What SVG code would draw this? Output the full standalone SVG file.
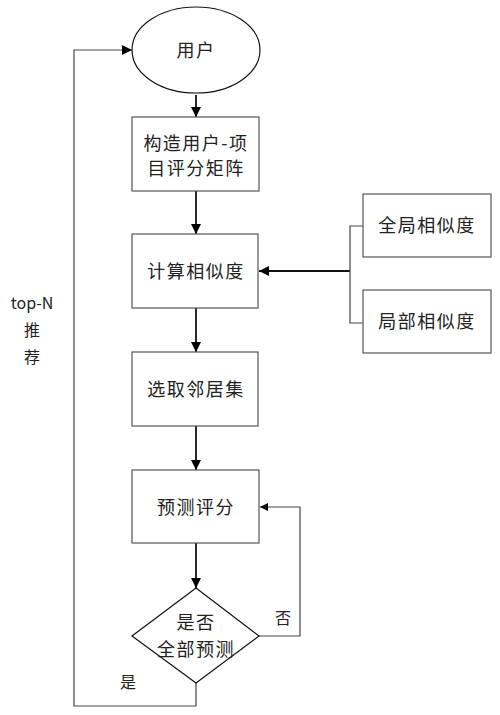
<svg xmlns="http://www.w3.org/2000/svg" width="500" height="715" viewBox="0 0 500 715">
<defs>
<style>
.n{fill:#fff;stroke:#555;stroke-width:1.2}
.t{font-family:"Noto Sans CJK SC","Liberation Sans",sans-serif;font-size:18px;fill:#222;text-anchor:middle;letter-spacing:1.5px}
.l{font-family:"Noto Sans CJK SC","Liberation Sans",sans-serif;font-size:16px;fill:#222;text-anchor:middle}
.c{fill:none;stroke:#111;stroke-width:1.8}
.g{fill:none;stroke:#444;stroke-width:1.2}
</style>
<marker id="a" viewBox="0 0 10 10" refX="10" refY="5" markerWidth="8" markerHeight="8" markerUnits="userSpaceOnUse" orient="auto">
<path d="M0,0L10,5L0,10z" fill="#000"/>
</marker>
<marker id="b" viewBox="0 0 10 10" refX="10" refY="5" markerWidth="10" markerHeight="10" markerUnits="userSpaceOnUse" orient="auto">
<path d="M0,0L10,5L0,10z" fill="#000"/>
</marker>
</defs>
<rect width="500" height="715" fill="#fff"/>
<g id="connectors">
<path class="c" d="M196,95V117" marker-end="url(#b)"/>
<path class="c" d="M196,191V234" marker-end="url(#b)"/>
<path class="c" d="M196,308V352" marker-end="url(#b)"/>
<path class="c" d="M196,426V470" marker-end="url(#b)"/>
<path class="c" d="M196,543V588" marker-end="url(#b)"/>
<path class="c" d="M350,271H259" marker-end="url(#b)"/>
<path class="g" d="M363,226H350V323H363"/>
<path class="g" d="M259,636H300V507H260" marker-end="url(#a)"/>
<path class="g" d="M196,683V706H74V50H132" marker-end="url(#b)"/>
</g>
<g id="user"><ellipse class="n" cx="196" cy="50" rx="64" ry="43" style="stroke:#111"/><text class="t" x="196" y="57">用户</text></g>
<g id="matrix"><rect class="n" x="132" y="117" width="127" height="74"/><text class="t" x="196" y="150">构造用户-项</text><text class="t" x="196" y="175">目评分矩阵</text></g>
<g id="similarity"><rect class="n" x="132" y="234" width="126" height="74"/><text class="t" x="196" y="278">计算相似度</text></g>
<g id="global"><rect class="n" x="363" y="194" width="128" height="63"/><text class="t" x="427" y="232">全局相似度</text></g>
<g id="local"><rect class="n" x="363" y="290" width="128" height="63"/><text class="t" x="427" y="328">局部相似度</text></g>
<g id="neighbors"><rect class="n" x="132" y="352" width="126" height="74"/><text class="t" x="196" y="396">选取邻居集</text></g>
<g id="predict"><rect class="n" x="132" y="470" width="127" height="73"/><text class="t" x="196" y="514">预测评分</text></g>
<g id="decision"><path class="n" d="M196,588L259,636L196,683L132,636z" style="stroke:#111"/><text class="t" x="196" y="629">是否</text><text class="t" x="196" y="656">全部预测</text></g>
<g id="labels">
<text class="l" x="283" y="624">否</text>
<text class="l" x="128" y="688">是</text>
<text class="l" x="32" y="309">top-N</text>
<text class="l" x="32" y="336">推</text>
<text class="l" x="32" y="363">荐</text>
</g>
</svg>
